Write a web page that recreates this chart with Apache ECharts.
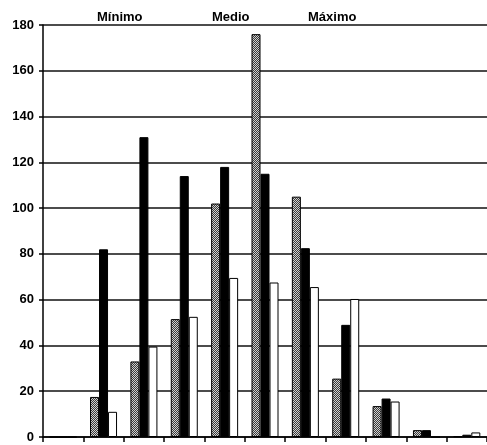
<!DOCTYPE html>
<html><head><meta charset="utf-8">
<script src="https://cdn.jsdelivr.net/npm/echarts@6/dist/echarts.min.js"></script>
<style>html,body{margin:0;padding:0;background:#fff}#c{width:487px;height:445px}</style>
</head><body><div id="c"></div>
<script>
const categories = ['1','2','3','4','5','6','7','8','9','10','11'];
const minimo = [0, 17.5, 33, 51.5, 102, 176, 105, 25.5, 13.5, 3, 0.3];
const medio  = [0, 82, 131, 114, 118, 115, 82.5, 49, 16.8, 3, 1];
const maximo = [0, 11, 39.5, 52.5, 69.5, 67.5, 65.5, 60.3, 15.5, 0, 2];
const yTicks = [0,20,40,60,80,100,120,140,160,180];

const pc = document.createElement('canvas');
pc.width = 4; pc.height = 4;
const g = pc.getContext('2d');
g.fillStyle = '#d0d0d0'; g.fillRect(0,0,4,4);
g.fillStyle = '#3a3a3a';
for (let i=0;i<4;i++){ g.fillRect(i,(3-i),1,1); g.fillRect(i,(3-i+2)%4,1,1); }

const chart = echarts.init(document.getElementById('c'));
const font = 'Liberation Sans';
const legendBase = {itemWidth:0,itemHeight:0,icon:'rect',top:11,padding:0,
  textStyle:{fontFamily:font,fontWeight:'bold',fontSize:13,color:'#000'}};
chart.setOption({
  animation:false,
  legend:[
    Object.assign({data:['Mínimo'],left:91},legendBase),
    Object.assign({data:['Medio'],left:206},legendBase),
    Object.assign({data:['Máximo'],left:302},legendBase)
  ],
  grid:{left:43,top:25,width:451,bottom:8,containLabel:false},
  xAxis:{type:'category',data:categories,
    axisLine:{lineStyle:{color:'#000',width:1.5}},
    axisTick:{show:true,length:5,lineStyle:{color:'#000',width:1.5}},
    axisLabel:{show:false},splitLine:{show:false}},
  yAxis:{type:'value',min:yTicks[0],max:yTicks[yTicks.length-1],interval:20,
    axisLine:{show:true,lineStyle:{color:'#000',width:1.5}},
    axisTick:{show:true,length:4,lineStyle:{color:'#000',width:1.5}},
    axisLabel:{fontFamily:font,fontWeight:'bold',fontSize:13,color:'#000',margin:9},
    splitLine:{lineStyle:{color:'#111',width:1.5}}},
  series:[
    {name:'Mínimo',type:'bar',data:minimo,barWidth:9,barGap:'0%',
      itemStyle:{color:{image:pc,repeat:'repeat'},borderColor:'#000',borderWidth:1}},
    {name:'Medio',type:'bar',data:medio,barWidth:9,barGap:'0%',
      itemStyle:{color:'#000',borderColor:'#000',borderWidth:1}},
    {name:'Máximo',type:'bar',data:maximo,barWidth:9,barGap:'0%',
      itemStyle:{color:'#fff',borderColor:'#000',borderWidth:1}}
  ]
});
</script></body></html>
